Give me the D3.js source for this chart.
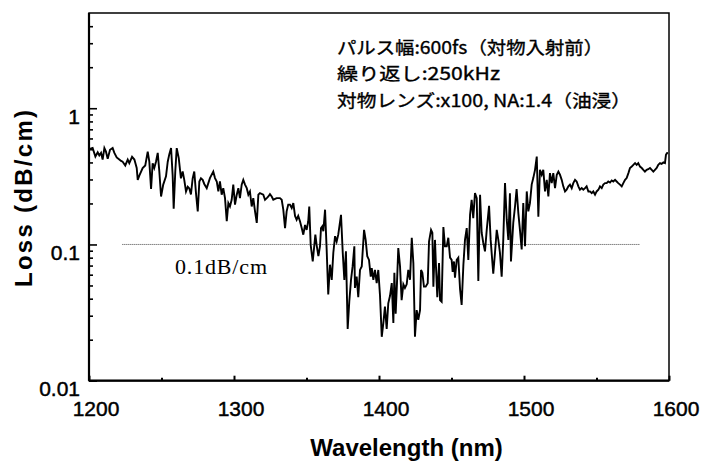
<!DOCTYPE html>
<html>
<head>
<meta charset="utf-8">
<script src="https://cdn.jsdelivr.net/npm/d3@7"></script>
<style>
  body { margin: 0; background: #fff; }
  svg { display: block; }
</style>
</head>
<body>
<svg></svg>
<script>
var svgWidth = 707, svgHeight = 462;

// wavelength (nm) and loss (dB/cm)
var wavelengths = [
  1200.0, 1202.5, 1204.4, 1206.0, 1207.1, 1208.3, 1209.4, 1210.6, 1211.7, 1212.9,
  1214.5, 1216.3, 1217.5, 1219.1, 1220.9, 1222.1, 1223.2, 1225.0, 1226.7, 1227.8,
  1229.7, 1231.3, 1232.9, 1233.6, 1234.7, 1237.0, 1238.8, 1240.5, 1241.6, 1242.8,
  1243.9, 1245.0, 1246.2, 1247.4, 1248.5, 1249.7, 1251.2, 1253.1, 1254.3, 1255.4,
  1256.6, 1257.7, 1258.4, 1259.5, 1260.5, 1261.9, 1263.4, 1264.6, 1265.7, 1266.9,
  1268.1, 1269.2, 1270.3, 1271.5, 1272.6, 1273.8, 1275.0, 1276.1, 1277.2, 1278.4,
  1279.5, 1281.2, 1283.4, 1285.7, 1286.9, 1288.1, 1289.2, 1290.3, 1291.5, 1292.6,
  1293.8, 1295.0, 1296.1, 1297.2, 1298.4, 1299.5, 1300.7, 1301.9, 1303.0, 1304.1,
  1305.3, 1306.4, 1307.6, 1308.8, 1309.9, 1311.0, 1312.2, 1313.3, 1314.5, 1315.7,
  1316.8, 1317.9, 1320.2, 1321.4, 1322.6, 1323.7, 1324.8, 1326.0, 1327.1, 1329.4,
  1331.7, 1332.9, 1334.0, 1335.2, 1336.3, 1337.4, 1338.6, 1339.8, 1340.9, 1342.1,
  1343.2, 1344.3, 1345.5, 1346.7, 1347.8, 1349.0, 1350.1, 1351.2, 1351.9, 1352.9,
  1354.3, 1355.2, 1356.1, 1357.0, 1358.2, 1359.3, 1360.0, 1360.9, 1361.6, 1362.8,
  1363.9, 1365.0, 1366.2, 1367.4, 1368.5, 1369.7, 1370.8, 1371.9, 1373.8, 1375.0,
  1376.1, 1377.2, 1378.4, 1379.5, 1380.7, 1381.8, 1383.0, 1383.4, 1384.6, 1385.7,
  1386.9, 1388.1, 1389.7, 1390.8, 1391.9, 1393.1, 1394.3, 1395.0, 1396.1, 1397.2,
  1398.4, 1399.5, 1400.7, 1401.9, 1403.0, 1404.1, 1405.3, 1406.4, 1407.6, 1408.8,
  1409.9, 1410.6, 1411.5, 1412.4, 1413.3, 1414.5, 1415.6, 1416.8, 1417.9, 1419.1,
  1420.2, 1421.4, 1422.6, 1423.7, 1424.8, 1426.0, 1427.1, 1428.3, 1429.0, 1429.9,
  1431.0, 1432.2, 1433.6, 1434.5, 1435.9, 1436.8, 1437.5, 1438.6, 1439.3, 1440.2,
  1441.4, 1442.1, 1443.2, 1444.4, 1445.5, 1446.7, 1447.8, 1449.0, 1450.1, 1450.8,
  1451.7, 1452.4, 1453.6, 1454.7, 1455.9, 1457.0, 1458.2, 1459.3, 1460.5, 1461.6,
  1462.8, 1463.9, 1465.0, 1466.2, 1467.4, 1468.5, 1469.7, 1470.8, 1471.9, 1473.1,
  1474.3, 1475.9, 1477.0, 1478.8, 1480.0, 1481.2, 1482.3, 1483.4, 1484.6, 1485.7,
  1486.9, 1488.1, 1489.2, 1490.3, 1491.0, 1492.6, 1493.8, 1494.9, 1496.1, 1497.2,
  1498.4, 1499.5, 1500.7, 1501.9, 1503.0, 1504.1, 1505.3, 1506.4, 1507.6, 1508.8,
  1509.9, 1511.0, 1512.2, 1513.3, 1514.5, 1515.7, 1516.8, 1517.9, 1519.1, 1520.2,
  1521.4, 1522.6, 1523.7, 1524.8, 1526.0, 1527.1, 1528.3, 1529.4, 1530.6, 1531.7,
  1532.9, 1534.0, 1535.2, 1536.3, 1537.5, 1538.6, 1539.8, 1540.9, 1542.1, 1543.2,
  1544.4, 1545.5, 1546.7, 1547.8, 1549.0, 1550.1, 1551.3, 1552.4, 1553.6, 1554.7,
  1555.9, 1557.0, 1558.1, 1559.3, 1560.5, 1561.6, 1562.8, 1563.9, 1565.0, 1566.2,
  1567.4, 1568.5, 1569.7, 1570.8, 1572.0, 1573.1, 1574.3, 1575.4, 1576.6, 1577.7,
  1578.8, 1580.0, 1581.2, 1582.3, 1583.4, 1584.6, 1585.7, 1586.9, 1588.1, 1589.2,
  1590.3, 1591.5, 1592.6, 1593.8, 1594.9, 1596.1, 1597.2, 1597.9, 1598.6, 1599.3
];

var lossValues = [
  0.50, 0.51, 0.442, 0.475, 0.45, 0.47, 0.42, 0.51, 0.48, 0.425,
  0.495, 0.51, 0.47, 0.435, 0.42, 0.41, 0.405, 0.38, 0.42, 0.395,
  0.44, 0.42, 0.364, 0.298, 0.32, 0.364, 0.38, 0.48, 0.405, 0.256,
  0.395, 0.364, 0.405, 0.47, 0.343, 0.225, 0.275, 0.316, 0.405, 0.46,
  0.51, 0.32, 0.183, 0.343, 0.51, 0.43, 0.306, 0.343, 0.298, 0.245,
  0.265, 0.258, 0.233, 0.306, 0.343, 0.237, 0.175, 0.29, 0.306, 0.298,
  0.278, 0.259, 0.307, 0.343, 0.307, 0.29, 0.245, 0.29, 0.232, 0.259,
  0.219, 0.148, 0.201, 0.19, 0.213, 0.275, 0.196, 0.232, 0.259, 0.219,
  0.275, 0.298, 0.275, 0.259, 0.232, 0.245, 0.19, 0.219, 0.175, 0.144,
  0.232, 0.238, 0.232, 0.213, 0.219, 0.225, 0.234, 0.225, 0.213, 0.219,
  0.219, 0.213, 0.18, 0.132, 0.175, 0.196, 0.196, 0.185, 0.201, 0.162,
  0.152, 0.162, 0.148, 0.132, 0.118, 0.139, 0.128, 0.148, 0.19, 0.099,
  0.075, 0.094, 0.118, 0.099, 0.082, 0.097, 0.132, 0.136, 0.125, 0.18,
  0.092, 0.043, 0.071, 0.055, 0.087, 0.115, 0.105, 0.118, 0.165, 0.087,
  0.055, 0.089, 0.024, 0.038, 0.055, 0.069, 0.097, 0.048, 0.058, 0.041,
  0.065, 0.069, 0.128, 0.108, 0.082, 0.077, 0.058, 0.067, 0.055, 0.065,
  0.052, 0.065, 0.042, 0.021, 0.0265, 0.035, 0.024, 0.037, 0.042, 0.052,
  0.0265, 0.062, 0.031, 0.052, 0.094, 0.069, 0.039, 0.051, 0.048, 0.051,
  0.065, 0.055, 0.112, 0.073, 0.021, 0.033, 0.028, 0.033, 0.065, 0.062,
  0.049, 0.049, 0.052, 0.105, 0.128, 0.122, 0.049, 0.108, 0.069, 0.041,
  0.073, 0.039, 0.038, 0.134, 0.097, 0.097, 0.112, 0.08, 0.077, 0.063,
  0.075, 0.057, 0.077, 0.08, 0.047, 0.036, 0.071, 0.108, 0.132, 0.077,
  0.165, 0.213, 0.156, 0.238, 0.219, 0.054, 0.232, 0.122, 0.103, 0.089,
  0.128, 0.192, 0.108, 0.061, 0.087, 0.128, 0.108, 0.087, 0.058, 0.108,
  0.282, 0.152, 0.108, 0.238, 0.075, 0.144, 0.19, 0.255, 0.17, 0.128,
  0.092, 0.201, 0.097, 0.245, 0.175, 0.201, 0.275, 0.307, 0.353, 0.442,
  0.16, 0.353, 0.325, 0.353, 0.245, 0.298, 0.225, 0.334, 0.282, 0.334,
  0.259, 0.325, 0.343, 0.325, 0.298, 0.267, 0.245, 0.252, 0.267, 0.275,
  0.259, 0.282, 0.298, 0.29, 0.267, 0.252, 0.259, 0.252, 0.259, 0.267,
  0.245, 0.245, 0.238, 0.245, 0.232, 0.245, 0.252, 0.267, 0.259, 0.275,
  0.282, 0.282, 0.29, 0.285, 0.295, 0.29, 0.298, 0.29, 0.282, 0.275,
  0.267, 0.282, 0.298, 0.307, 0.334, 0.364, 0.373, 0.384, 0.395, 0.384,
  0.395, 0.373, 0.364, 0.353, 0.343, 0.353, 0.357, 0.364, 0.353, 0.343,
  0.353, 0.364, 0.384, 0.395, 0.39, 0.40, 0.395, 0.455, 0.468, 0.47
];

var xTicks = [1200, 1300, 1400, 1500, 1600];
var xMinorTicks = [1250, 1350, 1450, 1550];
var yTicks = [0.01, 0.1, 1];
var yTickLabels = ["0.01", "0.1", "1"];

// dotted reference line at 0.1 dB/cm
var refLevel = 0.1;
var refRange = [1223, 1580];

var legendLines = [
  "パルス幅:600fs（対物入射前）",
  "繰り返し:250kHz",
  "対物レンズ:x100, NA:1.4（油浸）"
];

var data = wavelengths.map(function(w, i) {
  return { wl: w, loss: lossValues[i] };
});

var plotLeft = 89, plotRight = 669, plotTop = 13, plotBottom = 380.7;

var svg = d3.select("svg")
            .attr("width", svgWidth)
            .attr("height", svgHeight);

var x = d3.scaleLinear().domain([1200, 1600]).range([plotLeft, plotRight]);
var y = d3.scaleLog().domain([0.01, 5]).range([plotBottom, plotTop]);

var tickFont = "'Liberation Sans', Arial, sans-serif";

// x axis, ticks pointing into the plot
var gx = svg.append("g")
    .attr("transform", "translate(0," + plotBottom + ")")
    .call(d3.axisBottom(x).tickValues(xTicks).tickSize(-5).tickSizeOuter(0)
          .tickFormat(d3.format("d")));
gx.select(".domain").remove();
gx.selectAll("line").attr("stroke", "#000").attr("stroke-width", 2);
gx.selectAll("text")
    .attr("y", 35.3).attr("dy", null).attr("dx", 6.5)
    .style("font-family", tickFont).style("font-size", "21px")
    .attr("fill", "#000").attr("stroke", "#000").attr("stroke-width", 0.45);

var gxMinor = svg.append("g")
    .attr("transform", "translate(0," + plotBottom + ")")
    .call(d3.axisBottom(x).tickValues(xMinorTicks).tickSize(-3).tickSizeOuter(0).tickFormat(""));
gxMinor.select(".domain").remove();
gxMinor.selectAll("line").attr("stroke", "#000").attr("stroke-width", 2);

// y axis (log)
var gy = svg.append("g")
    .attr("transform", "translate(" + plotLeft + ",0)")
    .call(d3.axisLeft(y).tickValues(yTicks).tickSize(-8).tickSizeOuter(0).tickPadding(9)
          .tickFormat(function(d, i) { return yTickLabels[i]; }));
gy.select(".domain").remove();
gy.selectAll("line").attr("stroke", "#000").attr("stroke-width", 1.6);
gy.selectAll("text")
    .attr("dy", 15)
    .style("font-family", tickFont).style("font-size", "21px")
    .attr("fill", "#000").attr("stroke", "#000").attr("stroke-width", 0.45);

var yMinor = y.ticks().filter(function(d) {
  return yTicks.indexOf(d) < 0 && d < 5;
});
var gyMinor = svg.append("g")
    .attr("transform", "translate(" + plotLeft + ",0)")
    .call(d3.axisLeft(y).tickValues(yMinor).tickSize(-4).tickSizeOuter(0).tickFormat(""));
gyMinor.select(".domain").remove();
gyMinor.selectAll("line").attr("stroke", "#000").attr("stroke-width", 1.6);

// frame
svg.append("rect")
    .attr("x", plotLeft).attr("y", plotTop)
    .attr("width", plotRight - plotLeft).attr("height", plotBottom - plotTop)
    .attr("fill", "none").attr("stroke", "#000").attr("stroke-width", 1.5);
svg.append("line")
    .attr("x1", plotLeft).attr("x2", plotLeft).attr("y1", plotTop).attr("y2", plotBottom)
    .attr("stroke", "#000").attr("stroke-width", 2.2);
svg.append("line")
    .attr("x1", plotLeft).attr("x2", plotRight).attr("y1", plotBottom).attr("y2", plotBottom)
    .attr("stroke", "#000").attr("stroke-width", 2.2);

// reference line
svg.append("line")
    .attr("x1", x(refRange[0])).attr("x2", x(refRange[1]))
    .attr("y1", y(refLevel)).attr("y2", y(refLevel))
    .attr("stroke", "#444").attr("stroke-width", 1)
    .attr("stroke-dasharray", "1,1");

svg.append("text")
    .attr("x", 175).attr("y", 274)
    .attr("textLength", 92)
    .style("font-family", "'Liberation Serif', 'Times New Roman', serif")
    .style("font-size", "22px")
    .text("0.1dB/cm");

// data line
var line = d3.line()
    .x(function(d) { return x(d.wl); })
    .y(function(d) { return y(d.loss); });

svg.append("path")
    .datum(data)
    .attr("d", line)
    .attr("fill", "none")
    .attr("stroke", "#000")
    .attr("stroke-width", 1.9);

// conditions text
var legendWidths = [266, 163, 294];
svg.selectAll(".cond")
    .data(legendLines)
    .enter().append("text")
    .attr("class", "cond")
    .attr("x", 337)
    .attr("y", function(d, i) { return 53.5 + i * 26.5; })
    .attr("textLength", function(d, i) { return legendWidths[i]; })
    .attr("lengthAdjust", "spacingAndGlyphs")
    .attr("stroke", "#000").attr("stroke-width", 0.35)
    .style("font-family", "'Noto Sans CJK JP', sans-serif")
    .style("font-size", "17.5px")
    .text(function(d) { return d; });

// axis titles
svg.append("text")
    .attr("x", 406.5).attr("y", 456)
    .attr("text-anchor", "middle")
    .style("font-family", tickFont)
    .style("font-size", "24px").style("font-weight", "bold")
    .text("Wavelength (nm)");

svg.append("text")
    .attr("transform", "translate(32,198.5) rotate(-90)")
    .attr("text-anchor", "middle")
    .attr("textLength", 177)
    .attr("lengthAdjust", "spacing")
    .style("font-family", tickFont)
    .style("font-size", "24px").style("font-weight", "bold")
    .text("Loss (dB/cm)");
</script>
</body>
</html>
